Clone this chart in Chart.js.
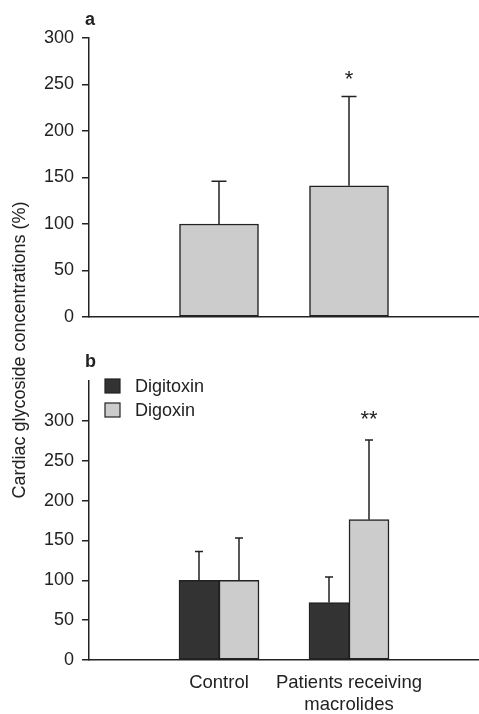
<!DOCTYPE html>
<html>
<head>
<meta charset="utf-8">
<script src="https://cdn.jsdelivr.net/npm/chart.js@4.4.1/dist/chart.umd.min.js"></script>
<style>
  html, body { margin: 0; padding: 0; background: #fff; }
  #wrap { position: relative; width: 479px; height: 714px; overflow: hidden;
          font-family: "Liberation Sans", Arial, sans-serif; color: #222; }
  canvas { position: absolute; left: 0; }
  #chartA { top: 0; }
  #chartB { top: 330px; }
  .panel { position: absolute; left: 85px; font-weight: bold; font-size: 18px; line-height: 18px; }
  #ytitle { position: absolute; left: -181px; top: 339px; width: 400px; height: 22px;
            line-height: 22px; text-align: center; font-size: 18px; white-space: nowrap;
            transform: rotate(-90deg); }
</style>
</head>
<body>
<div id="wrap">
  <canvas id="chartA" width="479" height="340"></canvas>
  <canvas id="chartB" width="491" height="384"></canvas>
  <div class="panel" style="top:10px">a</div>
  <div class="panel" style="top:352px">b</div>
  <div id="ytitle">Cardiac glycoside concentrations (%)</div>
</div>
<script>
// --- Data (outer empty slots pad the axis) ---
const groups = ["", "Control", ["Patients receiving", "macrolides"], ""];

// panel a: all cardiac glycosides
const panelAMeans = [null, 100, 141, null];
const panelAErrTop = [null, 146, 237, null];
const panelAMarks = [null, null, "*", null];

// panel b: split by drug
const digitoxinMeans = [null, 100, 72, null];
const digitoxinErrTop = [null, 136, 104, null];
const digoxinMeans = [null, 100, 176, null];
const digoxinErrTop = [null, 153, 276, null];
const digoxinMarks = [null, null, "**", null];

const yTicksA = { min: 0, max: 300, step: 50 };
const yTicksB = { min: 0, max: 350, step: 50, lastLabel: 300 };

// --- Style ---
const FONT = '"Liberation Sans", Arial, sans-serif';
const INK = "#222222";
const LIGHT = "#cccccc";
const DARK = "#333333";

Chart.defaults.font.family = FONT;
Chart.defaults.font.size = 18;
Chart.defaults.color = INK;

// error bars (upper whisker only) + significance stars
const errorBars = {
  id: "errorBars",
  afterDatasetsDraw(chart, args, opts) {
    const ctx = chart.ctx;
    const y = chart.scales.y;
    ctx.save();
    ctx.strokeStyle = INK;
    ctx.lineWidth = 1.5;
    ctx.fillStyle = INK;
    ctx.font = `22px ${FONT}`;
    ctx.textAlign = "center";
    ctx.textBaseline = "alphabetic";
    chart.data.datasets.forEach((ds, di) => {
      const meta = chart.getDatasetMeta(di);
      meta.data.forEach((bar, i) => {
        const top = ds.errTop[i];
        if (top == null) return;
        const yTop = y.getPixelForValue(top);
        ctx.beginPath();
        ctx.moveTo(bar.x, bar.y);
        ctx.lineTo(bar.x, yTop);
        ctx.moveTo(bar.x - opts.cap / 2, yTop);
        ctx.lineTo(bar.x + opts.cap / 2, yTop);
        ctx.stroke();
        const mark = ds.marks && ds.marks[i];
        if (mark) ctx.fillText(mark, bar.x, yTop - opts.markGap);
      });
    });
    ctx.restore();
  }
};

// small boxed legend inside panel b
const boxLegend = {
  id: "boxLegend",
  afterDraw(chart, args, opts) {
    const ctx = chart.ctx;
    ctx.save();
    ctx.font = `18px ${FONT}`;
    ctx.textBaseline = "middle";
    ctx.lineWidth = 1.2;
    chart.data.datasets.forEach((ds, i) => {
      const top = opts.y + i * opts.row;
      ctx.fillStyle = ds.backgroundColor;
      ctx.fillRect(opts.x, top, 15, 14);
      ctx.strokeStyle = INK;
      ctx.strokeRect(opts.x, top, 15, 14);
      ctx.fillStyle = INK;
      ctx.fillText(ds.label, opts.x + 30, top + 8);
    });
    ctx.restore();
  }
};

function yAxis(t) {
  return {
    min: t.min,
    max: t.max,
    afterFit: (s) => { s.width = 89; },
    afterBuildTicks: (s) => {
      if (t.lastLabel != null) s.ticks = s.ticks.filter((k) => k.value <= t.lastLabel);
    },
    ticks: { stepSize: t.step, padding: 8, color: INK },
    grid: { display: true, drawOnChartArea: false, drawTicks: true, tickLength: 7, color: INK, lineWidth: 1.5 },
    border: { display: true, color: INK, width: 1.5 }
  };
}

function barSet(label, data, errTop, color, marks) {
  return {
    label: label,
    data: data,
    errTop: errTop,
    marks: marks,
    backgroundColor: color,
    borderColor: INK,
    borderWidth: 1.5,
    borderSkipped: false
  };
}

// --- Panel a ---
new Chart(document.getElementById("chartA"), {
  type: "bar",
  data: {
    labels: groups,
    datasets: [barSet("All", panelAMeans, panelAErrTop, LIGHT, panelAMarks)]
  },
  options: {
    responsive: false,
    animation: false,
    devicePixelRatio: 1,
    layout: { padding: { top: 38, right: 0, bottom: 23, left: 0 } },
    datasets: { bar: { barThickness: 79 } },
    scales: {
      x: {
        offset: false,
        afterFit: (s) => { s.height = 0; },
        ticks: { display: false },
        grid: { display: false, drawTicks: false },
        border: { display: true, color: INK, width: 1.5 }
      },
      y: yAxis(yTicksA)
    },
    plugins: {
      legend: { display: false },
      tooltip: { enabled: false },
      errorBars: { cap: 15, markGap: 11 }
    }
  },
  plugins: [errorBars]
});

// --- Panel b ---
new Chart(document.getElementById("chartB"), {
  type: "bar",
  data: {
    labels: groups,
    datasets: [
      barSet("Digitoxin", digitoxinMeans, digitoxinErrTop, DARK, null),
      barSet("Digoxin", digoxinMeans, digoxinErrTop, LIGHT, digoxinMarks)
    ]
  },
  options: {
    responsive: false,
    animation: false,
    devicePixelRatio: 1,
    layout: { padding: { top: 51, right: 0, bottom: 0, left: 0 } },
    datasets: { bar: { barThickness: 40 } },
    scales: {
      x: {
        offset: false,
        afterFit: (s) => { s.height = 54; },
        ticks: { padding: 12, color: INK, autoSkip: false, maxRotation: 0, font: { size: 18.5 } },
        grid: { display: false, drawTicks: false },
        border: { display: true, color: INK, width: 1.5 }
      },
      y: yAxis(yTicksB)
    },
    plugins: {
      legend: { display: false },
      tooltip: { enabled: false },
      errorBars: { cap: 8, markGap: 14 },
      boxLegend: { x: 105, y: 49, row: 24 }
    }
  },
  plugins: [errorBars, boxLegend]
});
</script>
</body>
</html>
